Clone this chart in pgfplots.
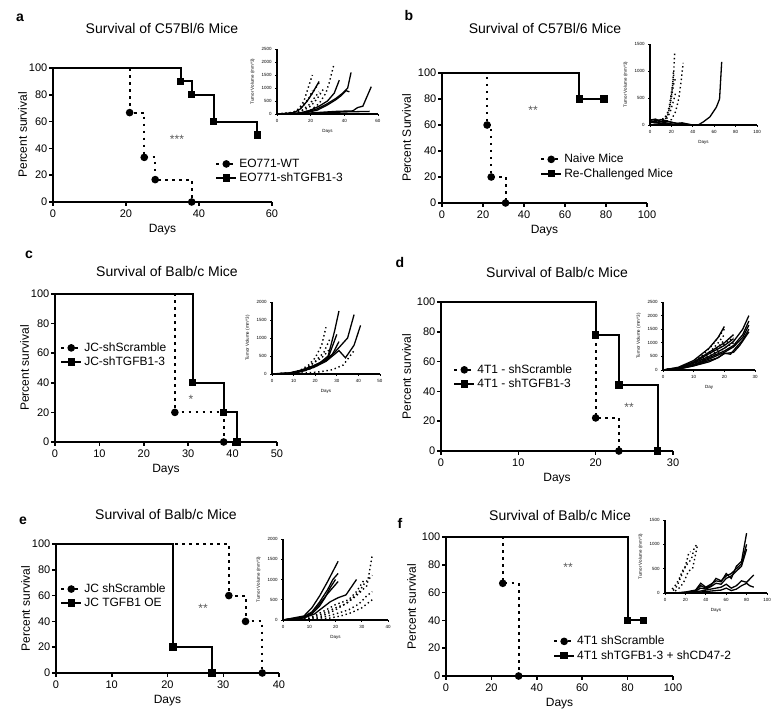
\documentclass[border=0pt]{standalone}
\usepackage{pgfplots}
\pgfplotsset{compat=1.18}
\usepackage{fontspec}
\setmainfont{Liberation Sans}
\newcommand{\lgf}{\fontsize{12}{14}\selectfont}
\pgfplotsset{
  km/.style={
    scale only axis, axis lines*=left, axis line style={-, line width=1.8pt},
    tick style={black, line width=1.5pt}, tick align=outside, major tick length=4pt,
    xmin=0, ymin=0, ymax=100, ytick={0,20,...,100}, clip=false,
    tick label style={font=\fontsize{11}{12}\selectfont},
    yticklabel style={inner xsep=1.5pt},
    label style={font=\fontsize{12}{13}\selectfont},
    /pgf/number format/assume math mode=true,
    xlabel={Days}, ylabel={Percent survival},
    legend cell align=left,
    legend image code/.code={\draw[mark repeat=2,mark phase=2,##1] plot coordinates {(0pt,0pt) (10pt,0pt) (20pt,0pt)};},
    legend style={draw=none, fill=none, anchor=west, font=\lgf, inner sep=0pt, row sep=0pt},
  },
  ins/.style={
    scale only axis, axis lines*=left, axis line style={-, line width=1.2pt},
    tick style={black, line width=0.9pt}, tick align=outside, major tick length=1.8pt,
    xmin=0, ymin=0, clip=false,
    tick label style={font=\fontsize{4.5}{5}\selectfont},
    label style={font=\fontsize{4.5}{5}\selectfont},
    /pgf/number format/assume math mode=true, /pgf/number format/1000 sep={}, scaled ticks=false,
    ylabel={Tumor Volume (mm\textasciicircum 3)}, xlabel={Days},
  },
  kmdot/.style={black, line width=2.1pt, dash pattern=on 2.5pt off 4.5pt, const plot, mark=*, mark size=2.7pt, mark options={solid}, mark phase=2, mark repeat=1, forget plot},
  kmsol/.style={black, line width=2pt, const plot, mark=square*, mark size=2.7pt, mark options={solid}, mark phase=2, mark repeat=1, forget plot},
  legdot/.style={black, line width=2.1pt, dash pattern=on 2.5pt off 4.5pt, mark=*, mark size=2.7pt, mark options={solid}},
  legsol/.style={black, line width=2pt, mark=square*, mark size=2.7pt, mark options={solid}},
  dl/.style={black, line width=1.4pt, dash pattern=on 1.4pt off 2.8pt},
  sl/.style={black, line width=1.3pt},
}
\newcommand{\ttl}[1]{\fontsize{14}{15}\selectfont #1}
\newcommand{\lett}[1]{\fontsize{14}{15}\selectfont\bfseries #1}
\newcommand{\stars}[1]{\fontsize{12}{13}\selectfont\color{black!65}#1}
\begin{document}
\begin{tikzpicture}[x=1pt,y=1pt]
\useasboundingbox (0,0) rectangle (779,725);
% ---------- titles, letters, stars
\node at (162,696) {\ttl{Survival of C57Bl/6 Mice}};
\node at (545,696) {\ttl{Survival of C57Bl/6 Mice}};
\node at (167,453) {\ttl{Survival of Balb/c Mice}};
\node at (557,452) {\ttl{Survival of Balb/c Mice}};
\node at (166,210) {\ttl{Survival of Balb/c Mice}};
\node at (560,209) {\ttl{Survival of Balb/c Mice}};
\node at (20,707) {\lett{a}};
\node at (409,709) {\lett{b}};
\node at (29,470) {\lett{c}};
\node at (400,462) {\lett{d}};
\node at (23,204) {\lett{e}};
\node at (400,202) {\lett{f}};
\node at (177,586) {\stars{***}};
\node at (533,615) {\stars{**}};
\node at (191,326) {\stars{*}};
\node at (629,318) {\stars{**}};
\node at (203,117) {\stars{**}};
\node at (568,158) {\stars{**}};

% ================= panel a
\begin{axis}[km, at={(53pt,523pt)}, anchor=south west, width=219pt, height=134pt,
  xmax=60, xtick={0,20,40,60}, ylabel shift=-3pt,
  legend style={at={(axis description cs:0.74,0.231)}}]
\addplot[kmdot] coordinates {(0,100)(21,66.7)(25,33.3)(28,16.7)(38,0)};
\addplot[kmsol] coordinates {(0,100)(35,90)(38,80)(44,60)(56,50)};
\addlegendimage{legdot}\addlegendentry{EO771-WT}
\addlegendimage{legsol}\addlegendentry{EO771-shTGFB1-3}
\end{axis}
\begin{axis}[ins, at={(277pt,611pt)}, anchor=south west, width=101pt, height=65pt,
  xmax=60, ymax=2500, xtick={0,20,40,60}, ytick={0,500,...,2500}]
\addplot[dl] coordinates {(0,0)(5,20)(10,80)(13,200)(16,500)(18,900)(21,1500)};
\addplot[dl] coordinates {(0,0)(5,20)(10,60)(13,150)(16,350)(19,600)(21,900)};
\addplot[dl] coordinates {(0,0)(7,30)(11,100)(14,250)(17,450)(20,700)(23,1000)(25,1200)};
\addplot[dl] coordinates {(0,0)(7,20)(11,60)(15,150)(19,350)(22,600)(25,850)};
\addplot[dl] coordinates {(0,0)(8,20)(12,60)(16,150)(20,300)(24,600)(28,1000)};
\addplot[dl] coordinates {(0,0)(10,20)(15,50)(20,150)(25,400)(29,800)(31,1200)(34,1950)};
\addplot[sl] coordinates {(0,0)(10,50)(14,200)(18,500)(21,800)(25,1250)};
\addplot[sl] coordinates {(0,0)(10,20)(15,60)(20,150)(25,300)(30,500)(34,800)(37,1300)};
\addplot[sl] coordinates {(0,0)(12,20)(18,80)(24,200)(30,400)(35,600)(39,800)(42,1000)(44,1600)};
\addplot[sl] coordinates {(0,0)(12,20)(18,60)(24,150)(30,350)(35,550)(38,700)(41,900)(43,850)};
\addplot[sl] coordinates {(0,0)(15,20)(25,60)(35,100)(45,120)(48,250)(51,300)(56,1050)};
\addplot[sl] coordinates {(0,0)(20,20)(30,50)(40,80)(55,100)};
\end{axis}

% ================= panel b
\begin{axis}[km, at={(442pt,522pt)}, anchor=south west, width=205pt, height=130pt,
  xmax=100, xtick={0,20,...,100}, ylabel={Percent Survival}, ylabel shift=2pt,
  legend style={at={(axis description cs:0.478,0.281)}}]
\addplot[kmdot] coordinates {(0,100)(22,60)(24,20)(31,0)};
\addplot[kmsol] coordinates {(0,100)(67,80)(79,80)};
\addlegendimage{legdot}\addlegendentry{Naive Mice}
\addlegendimage{legsol}\addlegendentry{Re-Challenged Mice}
\end{axis}
\begin{axis}[ins, at={(650pt,600pt)}, anchor=south west, width=107pt, height=81pt,
  xmax=100, ymax=1500, xtick={0,20,...,100}, ytick={0,500,1000,1500}]
\addplot[dl] coordinates {(0,50)(5,60)(10,80)(13,120)(16,200)(18,350)(20,600)(22,900)(23,1320)};
\addplot[dl] coordinates {(0,80)(5,100)(10,60)(14,100)(17,200)(19,400)(21,700)(22,1000)};
\addplot[dl] coordinates {(0,100)(5,80)(10,90)(15,150)(18,300)(20,500)(22,750)(24,880)};
\addplot[dl] coordinates {(0,60)(7,70)(12,100)(16,130)(19,250)(22,450)(24,600)};
\addplot[dl] coordinates {(0,50)(8,40)(14,60)(20,100)(24,250)(27,500)(29,800)(31,1150)};
\addplot[sl] coordinates {(0,100)(5,90)(10,60)(15,40)(20,20)(25,0)(30,0)};
\addplot[sl] coordinates {(0,80)(5,60)(10,100)(15,80)(20,50)(25,30)(30,40)(35,20)(40,0)};
\addplot[sl] coordinates {(0,60)(8,40)(15,20)(22,10)(30,0)(40,0)(45,0)(50,60)(56,150)(62,330)(65,480)(67,1170)};
\addplot[sl] coordinates {(0,50)(10,30)(20,10)(30,0)};
\addplot[sl] coordinates {(0,90)(5,110)(10,70)(18,60)(25,30)(32,20)(38,0)};
\end{axis}

% ================= panel c
\begin{axis}[km, at={(55pt,283pt)}, anchor=south west, width=222pt, height=148pt,
  xmax=50, xtick={0,10,...,50}, ylabel shift=-3pt,
  legend style={at={(axis description cs:0.0225,0.588)}}]
\addplot[kmdot] coordinates {(0,100)(27,20)(38,0)};
\addplot[kmsol] coordinates {(0,100)(31,40)(38,20)(41,0)};
\addlegendimage{legdot}\addlegendentry{JC-shScramble}
\addlegendimage{legsol}\addlegendentry{JC-shTGFB1-3}
\end{axis}
\begin{axis}[ins, at={(272pt,351pt)}, anchor=south west, width=108pt, height=72pt,
  xmax=50, ymax=2000, xtick={0,10,...,50}, ytick={0,500,...,2000}]
\addplot[dl] coordinates {(0,0)(8,30)(13,100)(17,250)(20,450)(23,800)(25,1300)};
\addplot[dl] coordinates {(0,0)(8,20)(13,80)(17,200)(20,350)(24,600)(27,1000)};
\addplot[dl] coordinates {(0,0)(10,30)(15,120)(19,300)(23,450)(27,700)};
\addplot[dl] coordinates {(0,0)(10,20)(15,80)(20,200)(24,350)(27,500)};
\addplot[dl] coordinates {(0,0)(10,10)(16,30)(22,60)(28,120)(33,250)(38,650)};
\addplot[sl] coordinates {(0,0)(8,30)(13,100)(18,200)(22,300)(26,500)(29,1200)(31,1750)};
\addplot[sl] coordinates {(0,0)(8,20)(13,80)(18,180)(22,280)(26,450)(30,1100)};
\addplot[sl] coordinates {(0,0)(10,30)(15,120)(20,250)(25,400)(28,550)(31,900)};
\addplot[sl] coordinates {(0,0)(10,20)(15,100)(20,230)(25,380)(29,600)(32,800)(35,1000)(38,1650)};
\addplot[sl] coordinates {(0,0)(10,20)(15,90)(20,200)(25,350)(29,550)(31,650)(34,450)(38,800)(41,1350)};
\end{axis}

% ================= panel d
\begin{axis}[km, at={(441pt,274pt)}, anchor=south west, width=232pt, height=149pt,
  xmax=30, xtick={0,10,20,30}, ylabel shift=1pt,
  legend style={at={(axis description cs:0.052,0.497)}}]
\addplot[kmdot] coordinates {(0,100)(20,22.2)(23,0)};
\addplot[kmsol] coordinates {(0,100)(20,77.8)(23,44.4)(28,0)};
\addlegendimage{legdot}\addlegendentry{4T1 - shScramble}
\addlegendimage{legsol}\addlegendentry{4T1 - shTGFB1-3}
\end{axis}
\begin{axis}[ins, at={(663pt,355pt)}, anchor=south west, width=92pt, height=68pt,
  xmax=30, ymax=2500, xtick={0,10,20,30}, ytick={0,500,...,2500}, xlabel={Day}]
\addplot[dl] coordinates {(0,0)(5,80)(10,300)(13,550)(16,900)(18,1200)(20,1500)};
\addplot[dl] coordinates {(0,0)(5,70)(10,250)(13,450)(16,750)(18,1000)(20,1300)};
\addplot[dl] coordinates {(0,0)(5,60)(10,220)(13,400)(16,650)(18,850)(20,1100)};
\addplot[dl] coordinates {(0,0)(5,50)(10,200)(13,350)(16,550)(18,750)(20,950)(23,1200)};
\addplot[dl] coordinates {(0,0)(5,50)(10,180)(13,300)(16,500)(20,800)(23,1000)};
\addplot[sl] coordinates {(0,0)(5,100)(10,350)(15,800)(18,1200)(20,1600)};
\addplot[sl] coordinates {(0,0)(5,80)(10,300)(15,650)(20,1000)(23,1300)};
\addplot[sl] coordinates {(0,0)(5,60)(10,250)(15,500)(20,800)(23,1050)(26,1500)(28,2000)};
\addplot[sl] coordinates {(0,0)(5,50)(10,200)(15,450)(20,700)(23,900)(26,1300)(28,1800)};
\addplot[sl] coordinates {(0,0)(5,50)(10,180)(15,400)(20,650)(23,850)(26,1200)(28,1650)};
\addplot[sl] coordinates {(0,0)(5,40)(10,160)(15,350)(18,450)(20,620)(22,580)(24,850)(26,1100)(28,1500)};
\addplot[sl] coordinates {(0,0)(5,30)(10,150)(15,300)(17,400)(20,600)(23,650)(25,900)(28,1400)};
\addplot[sl] coordinates {(0,0)(5,60)(10,270)(15,600)(20,900)(23,1150)};
\end{axis}

% ================= panel e
\begin{axis}[km, at={(56pt,52pt)}, anchor=south west, width=223pt, height=129pt,
  xmax=40, xtick={0,10,...,40}, ylabel shift=-3pt,
  legend style={at={(axis description cs:0.018,0.597)}}]
\addplot[kmdot] coordinates {(0,100)(31,60)(34,40)(37,0)};
\addplot[kmsol] coordinates {(0,100)(21,20)(28,0)};
\addlegendimage{legdot}\addlegendentry{JC shScramble}
\addlegendimage{legsol}\addlegendentry{JC TGFB1 OE}
\end{axis}
\begin{axis}[ins, at={(283pt,105pt)}, anchor=south west, width=105pt, height=81pt,
  xmax=40, ymax=2000, xtick={0,10,...,40}, ytick={0,500,...,2000}]
\addplot[dl] coordinates {(0,0)(10,50)(15,200)(20,380)(25,500)(28,700)(31,1000)};
\addplot[dl] coordinates {(0,0)(10,30)(15,100)(20,250)(25,450)(29,700)(31,900)(34,1100)};
\addplot[dl] coordinates {(0,0)(10,40)(15,150)(20,300)(24,400)(28,600)(32,850)(34,1600)};
\addplot[dl] coordinates {(0,0)(12,20)(16,80)(20,150)(25,250)(29,400)(32,600)(34,700)};
\addplot[dl] coordinates {(0,0)(14,20)(18,50)(22,100)(26,180)(30,300)(34,500)};
\addplot[sl] coordinates {(0,0)(8,100)(11,300)(14,600)(17,950)(19,1200)(21,1450)};
\addplot[sl] coordinates {(0,0)(8,80)(11,200)(14,450)(17,750)(19,1000)(21,1150)};
\addplot[sl] coordinates {(0,0)(8,60)(11,150)(14,350)(16,550)(18,800)(20,1000)};
\addplot[sl] coordinates {(0,0)(8,70)(11,180)(14,400)(17,650)(19,800)(21,950)};
\addplot[sl] coordinates {(0,0)(8,50)(12,150)(15,300)(18,450)(21,550)(24,620)(28,1000)};
\end{axis}

% ================= panel f
\begin{axis}[km, at={(446pt,49pt)}, anchor=south west, width=227pt, height=139pt,
  xmax=100, xtick={0,20,...,100}, ylabel shift=1pt,
  legend style={at={(axis description cs:0.471,0.198)}}]
\addplot[kmdot] coordinates {(0,100)(25,66.7)(32,0)};
\addplot[kmsol] coordinates {(0,100)(80,40)(87,40)};
\addlegendimage{legdot}\addlegendentry{4T1 shScramble}
\addlegendimage{legsol}\addlegendentry{4T1 shTGFB1-3 + shCD47-2}
\end{axis}
\begin{axis}[ins, at={(665pt,132pt)}, anchor=south west, width=102pt, height=73pt,
  xmax=100, ymax=1500, xtick={0,20,...,100}, ytick={0,500,1000,1500}]
\addplot[dl] coordinates {(7,80)(11,180)(14,300)(17,450)(20,550)(23,800)(25,850)};
\addplot[dl] coordinates {(8,50)(12,150)(16,350)(19,500)(22,600)(26,700)(29,950)(32,1000)};
\addplot[dl] coordinates {(10,40)(15,120)(19,250)(23,450)(27,500)(30,800)(32,1000)};
\addplot[sl] coordinates {(10,0)(20,20)(30,60)(35,200)(40,120)(45,180)(50,250)(55,230)(60,400)(65,300)(70,550)(75,650)(80,1230)};
\addplot[sl] coordinates {(10,0)(20,10)(30,50)(35,150)(40,100)(45,150)(50,300)(55,250)(60,350)(65,400)(70,500)(75,600)(80,1000)};
\addplot[sl] coordinates {(10,0)(20,10)(30,40)(35,100)(40,80)(45,130)(50,200)(55,180)(60,300)(65,350)(70,450)(75,550)(80,900)};
\addplot[sl] coordinates {(10,0)(25,10)(35,40)(45,80)(55,120)(60,180)(65,100)(70,150)(75,250)(80,220)(87,370)};
\addplot[sl] coordinates {(10,0)(25,5)(35,20)(45,40)(55,60)(60,100)(65,50)(70,80)(75,150)(80,200)(83,150)(87,120)};
\end{axis}
\end{tikzpicture}
\end{document}
